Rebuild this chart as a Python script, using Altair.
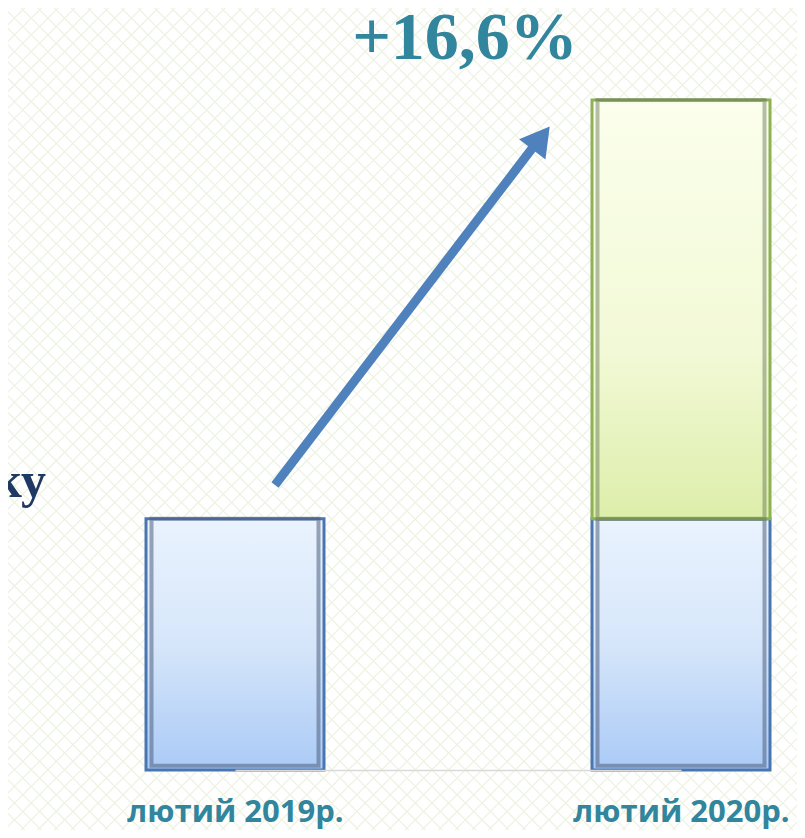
import altair as alt
import numpy as np
import pandas as pd

# ---- data ----
categories = ["лютий 2019р.", "лютий 2020р."]
base_values = [60, 60]        # blue lower segment
growth_values = [0, 100]      # green upper segment (2020 only)
headline = "+16,6%"
side_text = "ку"

df = pd.DataFrame({
    "cat": categories,
    "base": base_values,
    "top": [b + g for b, g in zip(base_values, growth_values)],
    "growth": growth_values,
})
df_green = df[df["growth"] > 0]

W, H = 789, 762
x_scale = alt.Scale(type="point", domain=categories, range=[227, 673], padding=0)
x_enc = alt.X("cat:N", sort=categories, scale=x_scale,
              axis=alt.Axis(title=None, ticks=False, domainColor="#D9D9D9", domainWidth=1.5,
                            labelFont="Open Sans", labelFontWeight="bold", labelFontSize=31,
                            labelColor="#31859C", labelPadding=27, labelAngle=0,
                            labelLimit=0, labelOverlap=False, zindex=1))
y_scale = alt.Scale(domain=[0, 181.97], nice=False, zero=False)

blue_grad = alt.Gradient(gradient="linear",
                         stops=[alt.GradientStop(color="#EAF3FE", offset=0),
                                alt.GradientStop(color="#D6E6FA", offset=0.5),
                                alt.GradientStop(color="#AACAF6", offset=1)],
                         x1=0, x2=0, y1=0, y2=1)
green_grad = alt.Gradient(gradient="linear",
                          stops=[alt.GradientStop(color="#FBFFEC", offset=0),
                                 alt.GradientStop(color="#F2F9D6", offset=0.6),
                                 alt.GradientStop(color="#DDEEAA", offset=1)],
                          x1=0, x2=0, y1=0, y2=1)

# faint diamond lattice in the background (decoration)
P = 16.7
Htot = 822
c1 = np.arange(0, W + Htot + P, P)
c2 = np.arange(-Htot, W + P, P)
lat = pd.DataFrame({
    "xa": np.concatenate([c1, c2]),
    "ya": 0.0,
    "xb": np.concatenate([c1 - Htot, c2 + Htot]),
    "yb": float(Htot),
})
lattice = alt.Chart(lat).mark_rule(color="#EEF3E3", strokeWidth=1.3).encode(
    x=alt.X("xa:Q", scale=None, axis=None), y=alt.Y("ya:Q", scale=None, axis=None),
    x2="xb:Q", y2="yb:Q")

blue = alt.Chart(df).mark_bar(size=178, color=blue_grad, stroke="#4A76B0", strokeWidth=3).encode(
    x=x_enc,
    y=alt.Y("base:Q", scale=y_scale, axis=None),
    y2=alt.datum(0),
)
blue_bevel = alt.Chart(df).mark_bar(size=167, fill=None, stroke="#4E5F7E", strokeWidth=4,
                                    strokeOpacity=0.55).encode(
    x=alt.X("cat:N", sort=categories, scale=x_scale), y=alt.Y("base:Q", scale=y_scale), y2=alt.datum(1.0))
green = alt.Chart(df_green).mark_bar(size=178, color=green_grad, stroke="#8DB255", strokeWidth=3).encode(
    x=alt.X("cat:N", sort=categories, scale=x_scale),
    y=alt.Y("top:Q", scale=y_scale),
    y2="base:Q",
)
green_bevel = alt.Chart(df_green).mark_bar(size=167, fill=None, stroke="#5E6E50", strokeWidth=4,
                                           strokeOpacity=0.45).encode(
    x=alt.X("cat:N", sort=categories, scale=x_scale), y=alt.Y("top:Q", scale=y_scale), y2="base:Q")

# annotations
title = alt.Chart(pd.DataFrame({"t": [headline]})).mark_text(
    font="Liberation Serif", fontWeight="bold", fontSize=68,
    color="#31859C", align="center", baseline="alphabetic").encode(
    text="t:N", x=alt.value(457), y=alt.value(51))
side = alt.Chart(pd.DataFrame({"t": [side_text]})).mark_text(
    font="Liberation Serif", fontWeight="bold", fontSize=50, color="#1F3864",
    align="right", baseline="alphabetic").encode(text="t:N", x=alt.value(38), y=alt.value(489))

arrow_line = alt.Chart(pd.DataFrame({"a": [1]})).mark_rule(color="#4F81BD", strokeWidth=9).encode(
    x=alt.value(267), y=alt.value(477), x2=alt.value(529), y2=alt.value(134))
arrow_head = alt.Chart(pd.DataFrame({"a": [1]})).mark_point(
    shape="triangle-up", filled=True, color="#4F81BD", opacity=1, size=1100, angle=37.4).encode(
    x=alt.value(533), y=alt.value(130))

fg = alt.layer(blue, blue_bevel, green, green_bevel, arrow_line, arrow_head, title, side)

chart = alt.layer(lattice, fg).resolve_scale(x="independent", y="independent").properties(
    width=W, height=H, padding={"left": 0, "top": 0, "right": 0, "bottom": 60},
    autosize=alt.AutoSizeParams(type="none"), background="white"
).configure_view(stroke=None)

chart.save("out.html", embed_options={"renderer": "svg", "actions": False})
